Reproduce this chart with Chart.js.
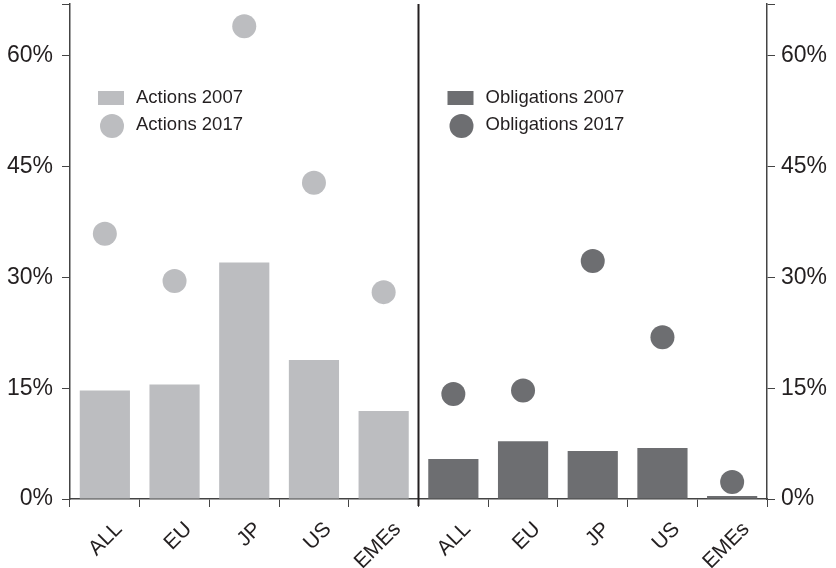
<!DOCTYPE html>
<html>
<head>
<meta charset="utf-8">
<script src="https://cdn.jsdelivr.net/npm/chart.js@4"></script>
<style>
  html, body { margin: 0; padding: 0; background: #fff; }
  #wrap { width: 836px; height: 568px; }
</style>
</head>
<body>
<div id="wrap"><canvas id="shareCanvas"></canvas></div>
<script>
var categories = ['ALL', 'EU', 'JP', 'US', 'EMEs', 'ALL', 'EU', 'JP', 'US', 'EMEs'];
var actions2007 = [14.7, 15.5, 32.0, 18.8, 11.9, null, null, null, null, null];
var actions2017 = [35.9, 29.5, 64.0, 42.8, 28.0, null, null, null, null, null];
var obligations2007 = [null, null, null, null, null, 5.4, 7.8, 6.5, 6.9, 0.4];
var obligations2017 = [null, null, null, null, null, 14.2, 14.7, 32.2, 21.9, 2.3];
var yTicks = [0, 15, 30, 45, 60];

var lightGrey = '#bcbdc0';
var darkGrey = '#6d6e71';
var inkColor = '#231f20';
var fontFamily = '"Liberation Sans", Arial, sans-serif';

var tickLabel = function(value) {
    return yTicks.indexOf(value) >= 0 ? value + '%' : '';
};

// legend + divider drawn on the canvas
var extras = {
    id: 'extras',
    afterDatasetsDraw: function(chart) {
        var ctx = chart.ctx;
        var x = chart.scales.x;
        var area = chart.chartArea;
        var mid = (x.getPixelForValue(4) + x.getPixelForValue(5)) / 2;
        ctx.save();
        ctx.strokeStyle = inkColor;
        ctx.lineWidth = 2;
        ctx.beginPath();
        ctx.moveTo(mid, area.top);
        ctx.lineTo(mid, area.bottom + 7);
        ctx.stroke();

        var legends = [
            {x: area.left + 28, color: lightGrey, names: ['Actions 2007', 'Actions 2017']},
            {x: mid + 29, color: darkGrey, names: ['Obligations 2007', 'Obligations 2017']}
        ];
        ctx.font = '18.5px ' + fontFamily;
        ctx.textBaseline = 'middle';
        legends.forEach(function(lg) {
            ctx.fillStyle = lg.color;
            ctx.fillRect(lg.x, area.top + 87, 26, 14);
            ctx.beginPath();
            ctx.arc(lg.x + 14, area.top + 122, 12, 0, Math.PI * 2);
            ctx.fill();
            ctx.fillStyle = inkColor;
            ctx.fillText(lg.names[0], lg.x + 38, area.top + 94);
            ctx.fillText(lg.names[1], lg.x + 38, area.top + 121);
        });
        ctx.restore();
    }
};

var fitY = function(w) {
    return function(scale) {
        scale.width = w;
        scale.paddingTop = 0;
        scale.paddingBottom = 0;
    };
};

const ctxShare = document.getElementById('shareCanvas').getContext('2d');
const chartShare = new Chart(ctxShare, {
    type: 'bar',
    data: {
        labels: categories,
        datasets: [{
            label: 'Actions 2007',
            data: actions2007,
            backgroundColor: lightGrey,
            grouped: false,
            barPercentage: 0.72,
            categoryPercentage: 1,
            order: 2
        }, {
            label: 'Obligations 2007',
            data: obligations2007,
            backgroundColor: darkGrey,
            grouped: false,
            barPercentage: 0.72,
            categoryPercentage: 1,
            order: 2
        }, {
            type: 'line',
            label: 'Actions 2017',
            data: actions2017,
            showLine: false,
            pointRadius: 12,
            pointHoverRadius: 12,
            pointBackgroundColor: lightGrey,
            pointBorderWidth: 0,
            order: 1
        }, {
            type: 'line',
            label: 'Obligations 2017',
            data: obligations2017,
            showLine: false,
            pointRadius: 12,
            pointHoverRadius: 12,
            pointBackgroundColor: darkGrey,
            pointBorderWidth: 0,
            order: 1
        }]
    },
    plugins: [extras],
    options: {
        responsive: true,
        maintainAspectRatio: false,
        animation: false,
        layout: { autoPadding: false, padding: { top: 4, left: 0, right: 0, bottom: 0 } },
        plugins: {
            legend: { display: false },
            tooltip: { enabled: false }
        },
        scales: {
            x: {
                offset: true,
                grid: {
                    offset: true,
                    drawOnChartArea: false,
                    drawTicks: true,
                    tickLength: 8,
                    color: '#444'
                },
                border: { display: true, color: '#444', width: 1.5 },
                ticks: {
                    color: inkColor,
                    font: { family: fontFamily, size: 21 },
                    minRotation: 45,
                    maxRotation: 45,
                    labelOffset: 14,
                    padding: 10
                },
                afterFit: function(scale) {
                    scale.height = 69;
                    scale.paddingLeft = 0;
                    scale.paddingRight = 0;
                }
            },
            y: {
                position: 'left',
                min: 0,
                max: 67,
                grid: { drawOnChartArea: false, tickLength: 8, color: '#444' },
                border: { display: true, color: '#444', width: 1.5 },
                ticks: {
                    stepSize: 15,
                    color: inkColor,
                    padding: 9,
                    font: { family: fontFamily, size: 23 },
                    callback: tickLabel
                },
                afterFit: fitY(70)
            },
            y2: {
                position: 'right',
                min: 0,
                max: 67,
                grid: { drawOnChartArea: false, tickLength: 8, color: '#444' },
                border: { display: true, color: '#444', width: 1.5 },
                ticks: {
                    stepSize: 15,
                    color: inkColor,
                    padding: 6,
                    font: { family: fontFamily, size: 23 },
                    callback: tickLabel
                },
                afterFit: fitY(69)
            }
        }
    }
});
</script>
</body>
</html>
